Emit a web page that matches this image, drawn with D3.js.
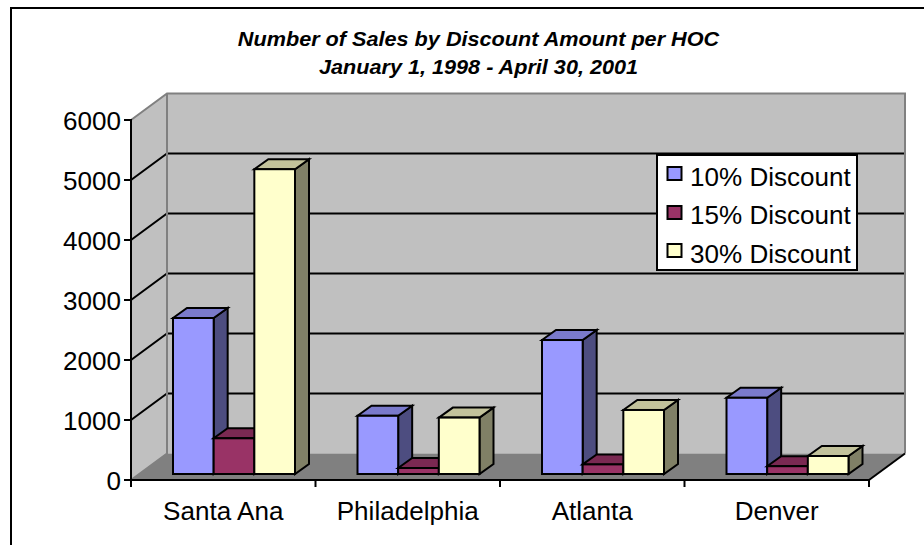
<!DOCTYPE html>
<html><head><meta charset="utf-8">
<style>html,body{margin:0;padding:0;background:#fff}svg{display:block}text{font-family:"Liberation Sans",Arial,sans-serif;fill:#000}</style>
<script src="https://cdn.jsdelivr.net/npm/d3@7"></script></head><body>
<svg id="c" width="924" height="545"></svg>
<script>
const categories = ["Santa Ana","Philadelphia","Atlanta","Denver"];
const seriesNames = ["10% Discount","15% Discount","30% Discount"];
const discount10 = [2600,970,2233,1270];
const discount15 = [595,100,160,130];
const discount30 = [5080,940,1067,300];
const seriesValues = [discount10,discount15,discount30];
const seriesColors = ["#9999ff","#993366","#ffffcc"];
const seriesTops = ["#7a7acc","#7a2952","#c2c29b"];
const seriesSides = ["#4d4d80","#4d1a33","#808066"];
const yTicks = [0,1000,2000,3000,4000,5000,6000];
const titleLines = ["Number of Sales by Discount Amount per HOC","January 1, 1998 - April 30, 2001"];

const svg = d3.select("#c");
const y = d3.scaleLinear().domain([0,6000]).range([480,120]);
const x = d3.scaleBand().domain(categories).range([131,869]);
const inner = d3.scaleBand().domain(d3.range(3)).range([42,164]);
const D = {x:36,y:-26.5}, B = {x:14,y:-10}, baseLift = 6;
const SX = 1.043, SXT = 1.11, FS = 25;
const L = d3.line();

function stretched(parent,px,py,size,anchor,t,sx){
  return parent.append("text").attr("transform",`translate(${px},${py}) scale(${sx||SX},1)`)
    .attr("text-anchor",anchor).attr("font-size",size).text(t);
}

svg.append("path").attr("d","M11,545V8H924").attr("fill","none").attr("stroke","#000").attr("stroke-width",2);

titleLines.forEach((t,i)=>stretched(svg,478.5,45.5+i*28.5,19.5,"middle",t,SXT)
  .attr("font-weight","bold").attr("font-style","italic"));

// walls and floor
const x0=x.range()[0], x1=x.range()[1], y0=y(0), yT=y(6000);
svg.append("path").attr("d",L([[x0,y0],[x0+D.x,y0+D.y],[x0+D.x,yT+D.y],[x0,yT]])+"Z").attr("fill","#c0c0c0");
svg.append("path").attr("d",L([[x0+D.x,y0+D.y],[x1+D.x,y0+D.y],[x1+D.x,yT+D.y],[x0+D.x,yT+D.y]])+"Z").attr("fill","#c0c0c0");
svg.append("path").attr("d",L([[x0,y0],[x1,y0],[x1+D.x,y0+D.y],[x0+D.x,y0+D.y]])+"Z").attr("fill","#808080");
// gridlines
yTicks.filter(v=>v>0&&v<6000).forEach(v=>{
  svg.append("path").attr("d",L([[x0,y(v)],[x0+D.x,y(v)+D.y],[x1+D.x,y(v)+D.y]])).attr("fill","none").attr("stroke","#000").attr("stroke-width",2);
});
// wall edges in grey
svg.append("path").attr("d",L([[x0,yT],[x0+D.x,yT+D.y],[x1+D.x,yT+D.y],[x1+D.x,y0+D.y]])).attr("fill","none").attr("stroke","#808080").attr("stroke-width",2);
svg.append("path").attr("d",L([[x0+D.x,yT+D.y],[x0+D.x,y0+D.y],[x0,y0]])).attr("fill","none").attr("stroke","#808080").attr("stroke-width",2);
svg.append("path").attr("d",L([[x1,y0],[x1+D.x,y0+D.y]])).attr("fill","none").attr("stroke","#000").attr("stroke-width",2);

// axes
const yAxis = d3.axisLeft(y).tickValues(yTicks).tickSize(7).offset(0).tickFormat(d3.format("d"));
const gy = svg.append("g").attr("transform",`translate(${x0},0)`).call(yAxis);
const xAxis = d3.axisBottom(d3.scaleLinear().domain([0,4]).range([x0,x1])).ticks(4).tickSize(7).offset(0).tickFormat("");
const gx = svg.append("g").attr("transform",`translate(0,${y0})`).call(xAxis);
[gy,gx].forEach(g=>{g.attr("font-family",null).attr("font-size",null);
  g.selectAll("path.domain,line").attr("stroke","#000").attr("stroke-width",2);});
gy.selectAll("text").attr("font-size",FS).attr("fill","#000").attr("x",0).attr("dy",null)
  .attr("y",10).attr("transform",`translate(-10,0) scale(${SX},1)`);
categories.forEach(c=>stretched(svg,x(c)+x.bandwidth()/2,520,FS,"middle",c));

// bars
const bars = svg.append("g").attr("stroke","#000").attr("stroke-width",2).attr("stroke-linejoin","miter");
categories.forEach((c,ci)=>{
  seriesValues.forEach((vals,si)=>{
    const l=x(c)+inner(si), r=l+inner.bandwidth(), t=y(vals[ci])-baseLift, b=y(0)-baseLift;
    const g=bars.append("g");
    g.append("path").attr("fill",seriesSides[si]).attr("d",L([[r,t],[r+B.x,t+B.y],[r+B.x,b+B.y],[r,b]])+"Z");
    g.append("path").attr("fill",seriesTops[si]).attr("d",L([[l,t],[l+B.x,t+B.y],[r+B.x,t+B.y],[r,t]])+"Z");
    g.append("rect").attr("fill",seriesColors[si]).attr("x",l).attr("y",t).attr("width",r-l).attr("height",b-t);
  });
});

// legend
const lg = svg.append("g");
lg.append("rect").attr("x",657).attr("y",155).attr("width",200).attr("height",115).attr("fill","#fff").attr("stroke","#000").attr("stroke-width",2);
seriesNames.forEach((n,i)=>{
  const swatchMid=[173.5,212.5,250.5][i], base=[186,224,263][i];
  lg.append("rect").attr("x",667.5).attr("y",swatchMid-6.5).attr("width",14).attr("height",13).attr("fill",seriesColors[i]).attr("stroke","#000").attr("stroke-width",2);
  stretched(lg,690,base,FS,"start",n);
});
</script></body></html>
